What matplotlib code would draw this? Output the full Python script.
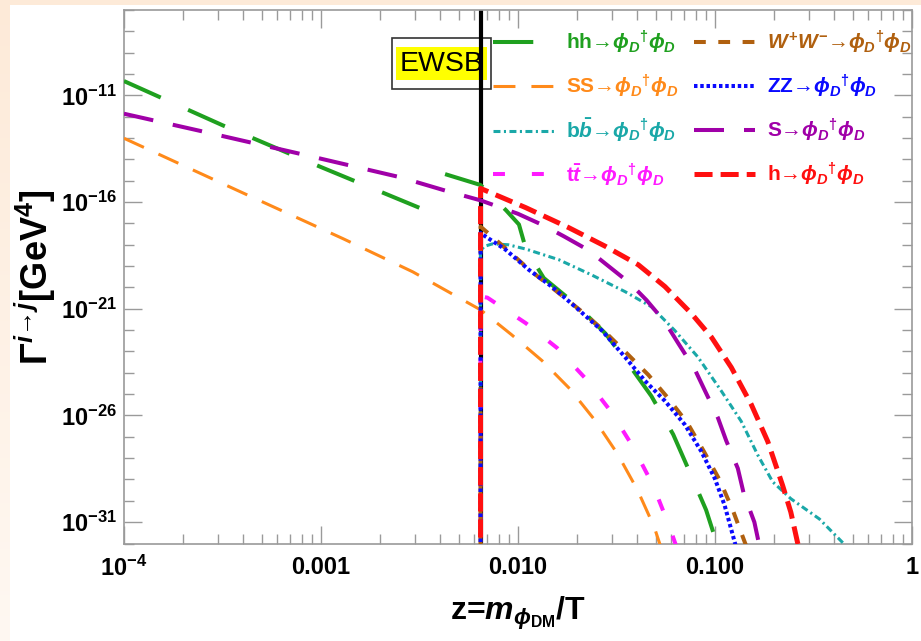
import matplotlib
matplotlib.use('Agg')
import matplotlib.pyplot as plt
import matplotlib.patches as mpatches
from matplotlib.ticker import FixedLocator, FixedFormatter, NullFormatter
import numpy as np

plt.rcParams['font.family'] = ['Liberation Sans', 'DejaVu Sans']
plt.rcParams['font.weight'] = 'bold'
plt.rcParams['axes.labelweight'] = 'bold'
plt.rcParams['mathtext.fontset'] = 'custom'
plt.rcParams['mathtext.rm'] = 'Liberation Sans:bold'
plt.rcParams['mathtext.it'] = 'Liberation Sans:bold:italic'
plt.rcParams['mathtext.bf'] = 'Liberation Sans:bold'
plt.rcParams['mathtext.sf'] = 'Liberation Sans:bold'
plt.rcParams['mathtext.fallback'] = 'stixsans'
plt.rcParams['lines.scale_dashes'] = False

# EWSB position, z = m/T
Z_EWSB = 0.0065

# curves, read as log10(z), log10(Gamma)
hh_logz_a = [-4.0, -3.5, -3.0, -2.5, -2.37]
hh_logg_a = [-10.33, -12.4, -14.36, -16.27, -16.77]
hh_logz_b = [-2.37, -2.19, -2.06, -1.995, -1.96, -1.869, -1.702, -1.556, -1.44,
             -1.323, -1.212, -1.136, -1.045, -0.98]
hh_logg_b = [-14.69, -15.2, -16.39, -17.05, -18.19, -19.56, -20.83, -22.16, -23.58,
             -25.09, -26.89, -28.49, -30.43, -32.3]

ss_logz = [-4.0, -3.418, -2.887, -2.534, -2.19, -2.032, -1.878, -1.738, -1.608,
           -1.494, -1.393, -1.308, -1.27]
ss_logg = [-13.01, -15.48, -17.72, -19.27, -21.05, -22.22, -23.43, -24.74, -26.24,
           -27.81, -29.5, -31.24, -32.3]

bb_logz = [-2.19, -2.19, -2.172, -2.13, -2.05, -1.961, -1.793, -1.625, -1.456, -1.322,
           -1.204, -1.086, -0.968, -0.867, -0.783, -0.707, -0.615, -0.47, -0.328]
bb_logg = [-40.0, -18.3, -18.08, -17.96, -18.0, -18.2, -18.7, -19.42, -20.2, -20.91,
           -22.02, -23.27, -24.85, -26.27, -27.85, -29.11, -29.9, -30.85, -32.18]

tt_logz = [-2.19, -2.19, -2.155, -1.961, -1.801, -1.659, -1.527, -1.414, -1.313,
           -1.232, -1.19]
tt_logg = [-40.0, -20.42, -20.48, -21.67, -22.84, -24.25, -25.83, -27.5, -29.3,
           -31.19, -32.3]

ww_logz = [-2.19, -2.19, -2.06, -1.941, -1.807, -1.684, -1.571, -1.453, -1.338,
           -1.237, -1.14, -1.056, -0.976, -0.909, -0.847, -0.83]
ww_logg = [-40.0, -17.15, -18.19, -19.18, -20.16, -21.07, -21.97, -23.04, -24.1,
           -25.2, -26.35, -27.69, -29.03, -30.45, -31.98, -32.4]

zz_logz = [-2.19, -2.19, -2.18, -2.063, -1.944, -1.827, -1.709, -1.574, -1.456,
           -1.355, -1.254, -1.153, -1.069, -1.001, -0.951, -0.892]
zz_logg = [-40.0, -17.45, -17.52, -18.23, -19.18, -19.97, -20.91, -22.02, -23.27,
           -24.38, -25.32, -26.43, -27.69, -28.95, -30.21, -32.2]

s_logz = [-4.0, -3.611, -3.106, -2.601, -2.37, -2.19, -2.0, -1.869, -1.768, -1.641,
          -1.549, -1.431, -1.347, -1.254, -1.187, -1.103, -1.052, -0.985, -0.943,
          -0.884, -0.854, -0.80, -0.77]
s_logg = [-11.86, -12.67, -13.74, -14.83, -15.46, -15.92, -16.55, -17.1, -17.6, -18.26,
          -18.94, -19.81, -20.6, -21.62, -22.61, -23.83, -24.82, -26.11, -27.18,
          -28.48, -29.66, -31.0, -32.3]

h_logz = [-2.19, -2.19, -1.961, -1.742, -1.557, -1.389, -1.254, -1.12, -1.018,
          -0.917, -0.816, -0.732, -0.657, -0.615, -0.581, -0.56]
h_logg = [-40.0, -15.36, -16.26, -17.2, -18.07, -18.94, -19.96, -21.22, -22.33,
          -23.75, -25.48, -27.22, -29.27, -30.53, -31.95, -32.6]

PAIR = r'$\phi_D{}^{\dagger}\phi_D$'
labels = {
    'hh': 'hh→' + PAIR,
    'ss': 'SS→' + PAIR,
    'bb': r'b$\bar{b}$→' + PAIR,
    'tt': r't$\bar{t}$→' + PAIR,
    'ww': r'$W^{+}W^{-}$→' + PAIR,
    'zz': 'ZZ→' + PAIR,
    's': 'S→' + PAIR,
    'h': 'h→' + PAIR,
}

x_major = [1e-4, 1e-3, 1e-2, 1e-1, 1.0]
x_major_labels = [r'$\mathbf{10^{-4}}$', '0.001', '0.010', '0.100', '1']
y_major_exp = [-31, -26, -21, -16, -11]


def p(v):
    return 10.0 ** np.asarray(v)


fig = plt.figure(figsize=(9.21, 6.41), dpi=100)

# peach frame at the top and left edge
bg = np.ones((641, 921, 3))
peach = np.array([253, 234, 216]) / 255.0
light = np.array([255, 248, 242]) / 255.0
fade = np.linspace(0, 1, 641)[:, None, None]
bg[:, :10, :] = peach * (1 - fade) + light * fade
bg[:5, :, :] = peach
fig.figimage(bg, 0, 0, origin='upper', zorder=-5)

ax = fig.add_axes([0.1346, 0.1521, 0.8556, 0.8323])
ax.set_xscale('log')
ax.set_yscale('log')
ax.set_xlim(1e-4, 1.0)
ax.set_ylim(1e-32, 1e-7)

# EWSB line
ax.axvline(Z_EWSB, color='black', lw=3.0, zorder=2)

ax.plot(p(hh_logz_a), p(hh_logg_a), color='#1fa01f', lw=2.9, dashes=(29, 21.6),
        label=labels['hh'], zorder=3)
ax.plot(p(hh_logz_b), p(hh_logg_b), color='#1fa01f', lw=2.9, dashes=(29, 21.6), zorder=3)
ax.plot(p(ss_logz), p(ss_logg), color='#ff8a1a', lw=2.2, dashes=(15.8, 11.5),
        label=labels['ss'], zorder=3)
ax.plot(p(bb_logz), p(bb_logg), color='#1aa8a8', lw=2.2, dashes=(5, 2.5, 1.5, 2.5),
        label=labels['bb'], zorder=3)
ax.plot(p(tt_logz), p(tt_logg), color='#ff1aff', lw=2.9, dashes=(8.6, 19.4),
        label=labels['tt'], zorder=3)
ax.plot(p(ww_logz), p(ww_logg), color='#b0600f', lw=2.9, dashes=(8.5, 9),
        label=labels['ww'], zorder=3)
ax.plot(p(zz_logz), p(zz_logg), color='#0a0aff', lw=2.9, dashes=(2.5, 2),
        label=labels['zz'], zorder=4)
ax.plot(p(s_logz), p(s_logg), color='#a000a8', lw=2.9, dashes=(21.6, 14.4),
        label=labels['s'], zorder=3)
ax.plot(p(h_logz), p(h_logg), color='#ff1010', lw=3.6, dashes=(13, 5.8),
        label=labels['h'], zorder=5)

# EWSB label box
ax.add_patch(mpatches.Rectangle((0.340, 0.852), 0.1257, 0.0955, transform=ax.transAxes,
                                facecolor='white', edgecolor='#333333', lw=1.2, zorder=1))
ax.text(0.4029, 0.8997, 'EWSB', transform=ax.transAxes, ha='center', va='center',
        fontsize=20.5, fontweight='normal', color='black', zorder=1.5,
        bbox=dict(facecolor='#ffff00', edgecolor='none', pad=2.2))

leg = ax.legend(ncol=2, loc='upper right', bbox_to_anchor=(1.024, 1.0), frameon=False,
                fontsize=15, handlelength=2.9, handletextpad=0.6, columnspacing=0.75,
                labelspacing=0.8, labelcolor='linecolor')

# ticks
ax.xaxis.set_major_locator(FixedLocator(x_major))
ax.xaxis.set_major_formatter(FixedFormatter(x_major_labels))
x_minor = [m * 10.0 ** e for e in range(-4, 0) for m in range(2, 10)]
ax.xaxis.set_minor_locator(FixedLocator(x_minor))
ax.xaxis.set_minor_formatter(NullFormatter())

ax.yaxis.set_major_locator(FixedLocator([10.0 ** e for e in y_major_exp]))
ax.yaxis.set_major_formatter(FixedFormatter([r'$\mathbf{10^{%d}}$' % e for e in y_major_exp]))
y_minor = [10.0 ** e for e in range(-32, -6) if e not in y_major_exp]
ax.yaxis.set_minor_locator(FixedLocator(y_minor))
ax.yaxis.set_minor_formatter(NullFormatter())

ax.tick_params(which='both', direction='in', top=True, right=True, color='#9a9a9a',
               width=1.0, labelsize=17)
ax.tick_params(which='major', length=13)
ax.tick_params(which='minor', length=7)
ax.tick_params(axis='x', which='major', pad=9)
ax.tick_params(axis='y', which='major', pad=5)
for s in ax.spines.values():
    s.set_color('#9a9a9a')
    s.set_linewidth(1.2)

ax.set_xlabel(r'z=$m_{\phi_{\mathrm{DM}}}$/T', fontsize=23, fontweight='bold', labelpad=10)
ax.set_ylabel(r'$\Gamma^{i\!\rightarrow\! j}$[GeV$^4$]', fontsize=26, fontweight='bold',
              labelpad=2)

fig.savefig('out.png', dpi=100)
